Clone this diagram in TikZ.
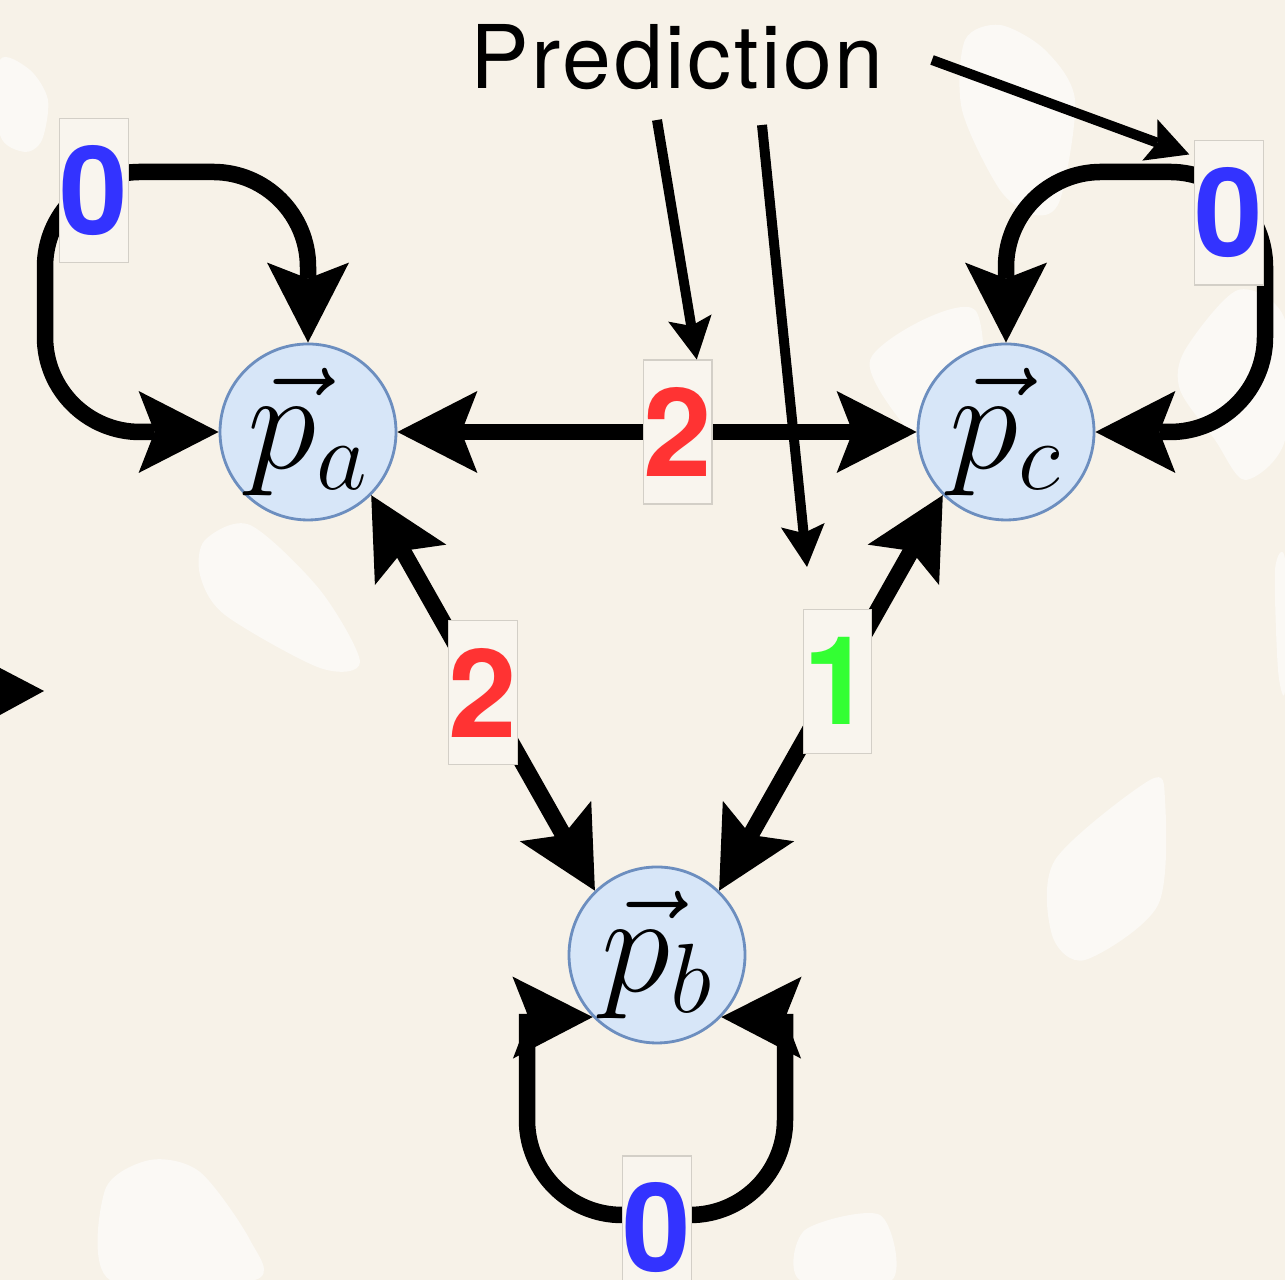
\documentclass[tikz,border=0pt]{standalone}
\usepackage{fix-cm}
\usepackage{amsmath, fontspec}
\usetikzlibrary{arrows.meta}
\newfontfamily\heros{TeX Gyre Heros}
\definecolor{bgbeige}{HTML}{F7F2E8}
\definecolor{blobwhite}{HTML}{FBF9F5}
\definecolor{nodeblue}{HTML}{D7E6F8}
\definecolor{rimblue}{HTML}{6C8EBF}
\definecolor{zeroblue}{HTML}{3333FF}
\definecolor{twored}{HTML}{FF3333}
\definecolor{onegreen}{HTML}{33FF33}
\definecolor{boxgrey}{HTML}{D3CFC7}
\definecolor{boxfill}{HTML}{F9F5EE}

\begin{document}
\begin{tikzpicture}[
		vecnode/.style={draw=rimblue, line width=0.8pt, fill=nodeblue, circle, minimum size=1.76cm, inner sep=0pt, font=\fontsize{40}{48}\selectfont},
		cost/.style={draw=boxgrey, line width=0.3pt, fill=boxfill, minimum width=0.66cm, minimum height=1.44cm, inner sep=0pt, font=\heros\bfseries\fontsize{35}{40}\selectfont},
		link/.style={line width=1.65mm, >={Stealth[length=8mm, width=8.2mm, inset=1.6mm, line width=0pt]}},
		hint/.style={line width=1mm, -{Stealth[length=4.2mm, width=4.4mm, inset=0.8mm, line width=0pt]}}]
				% backdrop
				\fill[bgbeige] (0,0) rectangle (12.85,12.80);
				\useasboundingbox (0,0) rectangle (12.85,12.80);
				\fill[blobwhite] plot[smooth cycle] coordinates {(0,12.20) (0.30,12.10) (0.48,11.80) (0.42,11.40) (0.25,11.28) (0,11.45)};
				\fill[blobwhite] plot[smooth cycle] coordinates {(9.65,12.40) (10.00,12.55) (10.45,12.30) (10.75,11.80) (10.60,10.80) (10.35,10.65) (10.00,10.90) (9.62,11.70)};
				\fill[blobwhite] plot[smooth cycle] coordinates {(8.70,9.20) (9.75,9.70) (9.78,8.10) (9.30,8.25)};
				\fill[blobwhite] plot[smooth cycle] coordinates {(11.85,9.30) (12.38,9.90) (12.85,9.60) (12.85,8.40) (12.45,8.00) (12.15,8.40) (11.80,8.90)};
				\fill[blobwhite] plot[smooth cycle] coordinates {(2.05,7.40) (2.50,7.55) (3.20,6.90) (3.60,6.18) (3.20,6.12) (2.25,6.65) (2.00,7.05)};
				\fill[blobwhite] plot[smooth cycle] coordinates {(10.55,4.20) (11.50,5.00) (11.65,4.80) (11.58,3.75) (10.85,3.20) (10.52,3.45)};
				\fill[blobwhite] plot[smooth cycle] coordinates {(12.75,7.10) (12.85,7.20) (12.85,5.90) (12.78,6.10)};
				\fill[blobwhite] plot[smooth cycle] coordinates {(1.05,0.90) (1.50,1.20) (2.00,1.08) (2.50,0.40) (2.55,0) (1.10,0)};
				\fill[blobwhite] plot[smooth cycle] coordinates {(8.05,0.50) (8.80,0.65) (8.92,0) (8.00,0)};
				\fill (0,6.12) -- (0.44,5.89) -- (0,5.65) -- cycle;

				% the three vectors
				\node[vecnode] (pa) at (3.08,8.48) {$\vec{p}_a$};
				\node[vecnode] (pc) at (10.06,8.48) {$\vec{p}_c$};
				\node[vecnode] (pb) at (6.57,3.25) {$\vec{p}_b$};

				% pairwise links
				\draw[link, <->] (pa) -- (pc) node[cost, text=twored, pos=0.54] (lac) {2};
				\draw[link, <->] (pa.-45) -- (pb.134) node[cost, text=twored, midway] (lab) {2};
				\draw[link, <->] (pc.225) -- (pb.46) node[cost, text=onegreen, pos=0.47] (lcb) {1};

				% self loops
				\draw[link, <->, rounded corners=9.5mm] (pa.north) -- (3.08,11.08) -- (0.45,11.08) -- (0.45,8.48) -- (pa.west);
				\node[cost, text=zeroblue] (la0) at (0.94,10.89) {0};
				\draw[link, <->, rounded corners=9.5mm] (pc.north) -- (10.06,11.08) -- (12.65,11.08) -- (12.65,8.48) -- (pc.east);
				\node[cost, text=zeroblue] (lc0) at (12.29,10.67) {0};
				\coordinate (bl) at (5.27,2.66);
				\coordinate (br) at (7.85,2.66);
				\draw[link, rounded corners=9.5mm] (bl) -- (5.27,0.65) -- (7.85,0.65) -- (br);
				\draw[link, ->] (5.27,2.625) -- (pb.224);
				\draw[link, ->] (7.85,2.625) -- (pb.316);
				\node[cost, text=zeroblue] (lb0) at (6.57,0.52) {0};

				% prediction pointers
				\node[font=\heros\fontsize{25}{30}\selectfont\addfontfeature{LetterSpace=3}] (pred) at (6.77,12.23) {Prediction};
				\coordinate (h1) at (6.57,11.60);
				\coordinate (h2) at (7.62,11.55);
				\coordinate (h3) at (9.32,12.20);
				\coordinate (tip2) at (8.07,7.13);
				\draw[hint] (h1) -- ([xshift=1.9mm]lac.north);
				\draw[hint] (h2) -- (tip2);
				\draw[hint] (h3) -- ([shift={(-0.05,-0.14)}]lc0.north west);
			\end{tikzpicture}
\end{document}
